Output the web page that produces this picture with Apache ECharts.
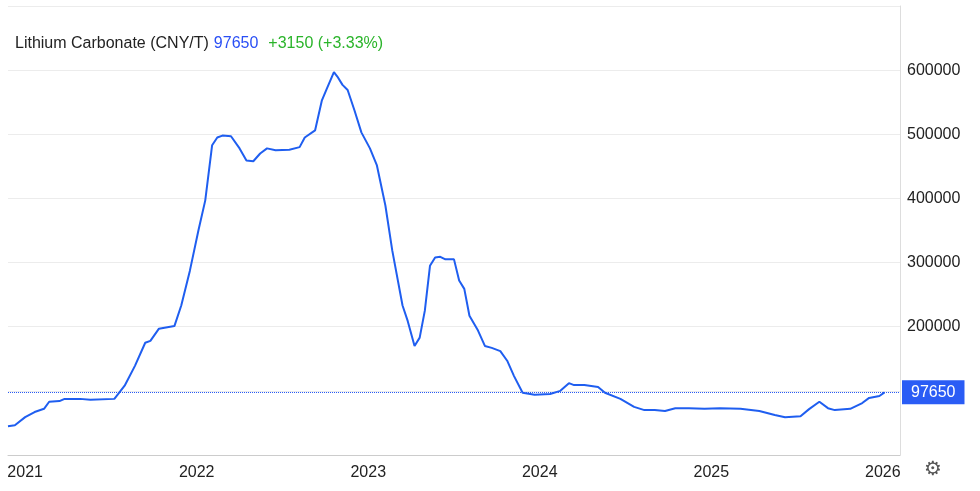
<!DOCTYPE html>
<html><head><meta charset="utf-8">
<script src="https://cdn.jsdelivr.net/npm/echarts@6/dist/echarts.min.js"></script>
<style>html,body{margin:0;padding:0;background:#fff}#c{width:980px;height:491px}</style>
</head><body><div id="c"></div>
<script>
const years = [2020.90,2020.94,2021.00,2021.055,2021.11,2021.14,2021.20,2021.23,2021.32,2021.38,2021.52,2021.58,2021.64,2021.70,2021.73,2021.78,2021.87,2021.91,2021.96,2022.01,2022.05,2022.09,2022.12,2022.15,2022.20,2022.25,2022.29,2022.33,2022.37,2022.41,2022.46,2022.54,2022.60,2022.63,2022.69,2022.73,2022.76,2022.80,2022.82,2022.85,2022.88,2022.92,2022.96,2023.01,2023.05,2023.10,2023.14,2023.20,2023.23,2023.27,2023.30,2023.33,2023.36,2023.39,2023.42,2023.45,2023.50,2023.53,2023.56,2023.59,2023.64,2023.68,2023.72,2023.77,2023.81,2023.85,2023.90,2023.97,2024.06,2024.12,2024.17,2024.20,2024.26,2024.34,2024.38,2024.47,2024.55,2024.61,2024.67,2024.73,2024.79,2024.87,2024.96,2025.05,2025.17,2025.28,2025.37,2025.43,2025.52,2025.57,2025.63,2025.68,2025.72,2025.81,2025.88,2025.92,2025.98,2026.01];
const prices = [45000,46500,59000,67000,72000,83000,84000,87500,87500,86000,87500,108000,139000,175000,178000,197000,201000,233000,287000,350000,397000,483000,495000,498000,497000,478000,459000,458000,470000,478000,475000,476000,480000,495000,506000,553000,572000,597000,590000,577000,569000,537000,503000,478000,452000,389000,319000,233000,209000,170000,183000,225000,295000,308000,309000,305000,305000,272000,259000,217000,194000,170000,167000,162000,147000,123000,97000,94000,95000,100000,112000,109000,109000,106000,97000,87500,75000,70000,70000,68500,73000,73000,72000,73000,72000,68500,62500,59000,60500,71500,83000,73000,70000,72000,81000,89000,92000,97650];
const yearTicks = [2021,2022,2023,2024,2025,2026];
const lastPrice = 97650;
const chart = echarts.init(document.getElementById('c'));
chart.setOption({
  animation:false,
  grid:{left:8,right:80,top:6,bottom:36},
  title:{left:10,top:30,text:'{a|Lithium Carbonate (CNY/T)} {b|97650}  {c|+3150 (+3.33%)}',
    textStyle:{fontWeight:'normal',rich:{a:{fontFamily:'Liberation Sans',fontSize:16,fontWeight:'normal',color:'#222'},b:{fontFamily:'Liberation Sans',fontSize:16,fontWeight:'normal',color:'#2a4ff5'},c:{fontFamily:'Liberation Sans',fontSize:16,fontWeight:'normal',color:'#2ab42a'}}}},
  xAxis:{type:'value',min:2020.90,max:2026.10,
    axisLine:{show:true,lineStyle:{color:'#ccc'}},axisTick:{show:false},splitLine:{show:false},
    axisLabel:{customValues:yearTicks,formatter:v=>String(Math.round(v)),fontFamily:'Liberation Sans',fontSize:16,color:'#222',margin:10}},
  yAxis:{type:'value',position:'right',min:0,max:700000,interval:100000,
    axisLine:{show:true,lineStyle:{color:'#ddd'}},axisTick:{show:false},
    splitLine:{lineStyle:{color:'#ececec'}},
    axisLabel:{formatter:v=>(v>=200000&&v<=600000)?String(v):'',fontFamily:'Liberation Sans',fontSize:16,color:'#222',margin:7}},
  series:[{type:'line',data:years.map((y,i)=>[y,prices[i]]),showSymbol:false,
    lineStyle:{color:'#1f5ef0',width:2},
    markLine:{silent:true,symbol:'none',data:[{yAxis:lastPrice}],
      lineStyle:{color:'#2a5cf5',type:'dotted',width:1},
      label:{position:'end',formatter:'97650',color:'#fff',backgroundColor:'#2a5cf5',fontFamily:'Liberation Sans',fontSize:16,padding:[4,9,4,9],distance:2}}}],
  graphic:[{type:'text',left:924,top:460,style:{text:'⚙',fontSize:20,fill:'#555',fontFamily:'DejaVu Sans'}}]
});
</script></body></html>
